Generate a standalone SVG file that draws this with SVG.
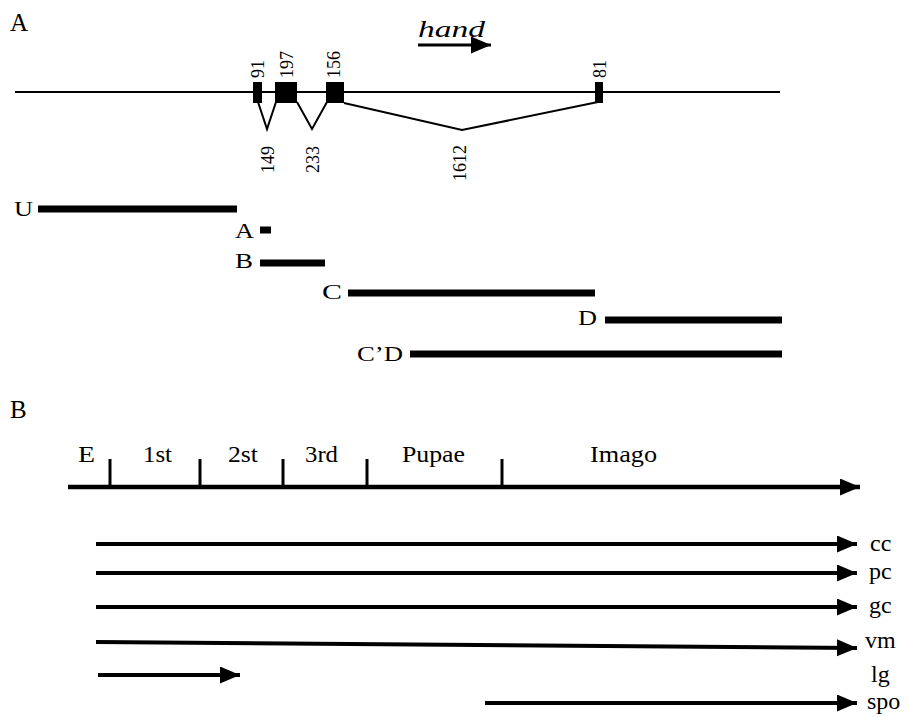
<svg xmlns="http://www.w3.org/2000/svg" width="909" height="717" viewBox="0 0 909 717" font-family="'Liberation Serif', 'Times New Roman', Times, serif">
  <defs>
    <style>
      .panel { font-size: 25px; }
      .num { font-size: 18px; }
      .frag { font-size: 21px; }
      .stage { font-size: 24px; }
      .tissue { font-size: 24px; }
      .thin { stroke: #000; stroke-width: 2; fill: none; }
      .bar { stroke: #000; stroke-width: 7; stroke-linecap: butt; }
      .axis { stroke: #000; stroke-width: 4.5; fill: none; }
      .tick { stroke: #000; stroke-width: 3; }
      .exp { stroke: #000; stroke-width: 4; fill: none; }
    </style>
    <marker id="head" markerUnits="userSpaceOnUse" markerWidth="22" markerHeight="18" refX="20" refY="8.5" orient="auto">
      <path d="M0,0 L20,8.5 L0,17 Z" fill="#000"/>
    </marker>
  </defs>

  <rect width="909" height="717" fill="#fff"/>

  <!-- panel letters -->
  <text class="panel" x="10" y="31">A</text>
  <text class="panel" x="10" y="418">B</text>

  <!-- gene model -->
  <g id="gene">
    <line class="thin" x1="15" y1="92" x2="780" y2="92"/>
    <rect x="253" y="82" width="9" height="21" fill="#000"/>
    <rect x="275" y="82" width="22" height="21" fill="#000"/>
    <rect x="326" y="82" width="18" height="21" fill="#000"/>
    <rect x="595" y="82" width="8" height="21" fill="#000"/>
    <!-- introns -->
    <polyline class="thin" points="258,102 267,129 276,102"/>
    <polyline class="thin" points="297,102 312,129 327,102"/>
    <polyline class="thin" points="344,103 462,130 598,102"/>
    <!-- exon lengths -->
    <text class="num" transform="translate(264,78) rotate(-90)">91</text>
    <text class="num" transform="translate(293,78) rotate(-90)">197</text>
    <text class="num" transform="translate(340,78) rotate(-90)">156</text>
    <text class="num" transform="translate(606,78) rotate(-90)">81</text>
    <!-- intron lengths -->
    <text class="num" transform="translate(274,173) rotate(-90)">149</text>
    <text class="num" transform="translate(319,173) rotate(-90)">233</text>
    <text class="num" transform="translate(466,181) rotate(-90)">1612</text>
    <!-- transcription direction -->
    <text x="418" y="37" font-size="24" font-style="italic" textLength="67" lengthAdjust="spacingAndGlyphs">hand</text>
    <line x1="418" y1="45" x2="491" y2="45" stroke="#000" stroke-width="3" marker-end="url(#head)"/>
  </g>

  <!-- probe fragments -->
  <g id="frag-U">
    <text class="frag" x="14" y="216" textLength="19" lengthAdjust="spacingAndGlyphs">U</text>
    <line class="bar" x1="38" y1="209" x2="237" y2="209"/>
  </g>
  <g id="frag-A">
    <text class="frag" x="235" y="238" textLength="19" lengthAdjust="spacingAndGlyphs">A</text>
    <line class="bar" x1="260" y1="230" x2="271" y2="230"/>
  </g>
  <g id="frag-B">
    <text class="frag" x="235" y="268" textLength="18" lengthAdjust="spacingAndGlyphs">B</text>
    <line class="bar" x1="260" y1="263" x2="325" y2="263"/>
  </g>
  <g id="frag-C">
    <text class="frag" x="322" y="299" textLength="20" lengthAdjust="spacingAndGlyphs">C</text>
    <line class="bar" x1="348" y1="293" x2="595" y2="293"/>
  </g>
  <g id="frag-D">
    <text class="frag" x="578" y="325" textLength="19" lengthAdjust="spacingAndGlyphs">D</text>
    <line class="bar" x1="605" y1="320" x2="782" y2="320"/>
  </g>
  <g id="frag-CD">
    <text class="frag" x="357" y="361" textLength="46" lengthAdjust="spacingAndGlyphs">C’D</text>
    <line class="bar" x1="410" y1="354" x2="782" y2="354"/>
  </g>

  <!-- developmental time axis -->
  <g id="timeline">
    <line class="axis" x1="68" y1="487" x2="860" y2="487" marker-end="url(#head)"/>
    <line class="tick" x1="110" y1="459" x2="110" y2="487"/>
    <line class="tick" x1="200" y1="459" x2="200" y2="487"/>
    <line class="tick" x1="283" y1="459" x2="283" y2="487"/>
    <line class="tick" x1="367" y1="459" x2="367" y2="487"/>
    <line class="tick" x1="502" y1="459" x2="502" y2="487"/>
    <text class="stage" x="78" y="462" textLength="17" lengthAdjust="spacingAndGlyphs">E</text>
    <text class="stage" x="143" y="462" textLength="29" lengthAdjust="spacingAndGlyphs">1st</text>
    <text class="stage" x="228" y="462" textLength="30" lengthAdjust="spacingAndGlyphs">2st</text>
    <text class="stage" x="305" y="462" textLength="33" lengthAdjust="spacingAndGlyphs">3rd</text>
    <text class="stage" x="402" y="462" textLength="63" lengthAdjust="spacingAndGlyphs">Pupae</text>
    <text class="stage" x="590" y="462" textLength="67" lengthAdjust="spacingAndGlyphs">Imago</text>
  </g>

  <!-- expression periods per tissue -->
  <g id="expression">
    <line class="exp" x1="96" y1="544" x2="857" y2="544" marker-end="url(#head)"/>
    <line class="exp" x1="96" y1="573" x2="857" y2="573" marker-end="url(#head)"/>
    <line class="exp" x1="96" y1="607" x2="857" y2="607" marker-end="url(#head)"/>
    <line class="exp" x1="96" y1="642" x2="857" y2="648" marker-end="url(#head)"/>
    <line class="exp" x1="98" y1="675" x2="240" y2="675" marker-end="url(#head)"/>
    <line class="exp" x1="485" y1="703" x2="857" y2="703" marker-end="url(#head)"/>
  </g>

  <g id="labels">
    <text class="tissue" x="870" y="551">cc</text>
    <text class="tissue" x="869" y="579">pc</text>
    <text class="tissue" x="869" y="613">gc</text>
    <text class="tissue" x="865" y="648">vm</text>
    <text class="tissue" x="871" y="682">lg</text>
    <text class="tissue" x="867" y="709">spo</text>
  </g>
</svg>
